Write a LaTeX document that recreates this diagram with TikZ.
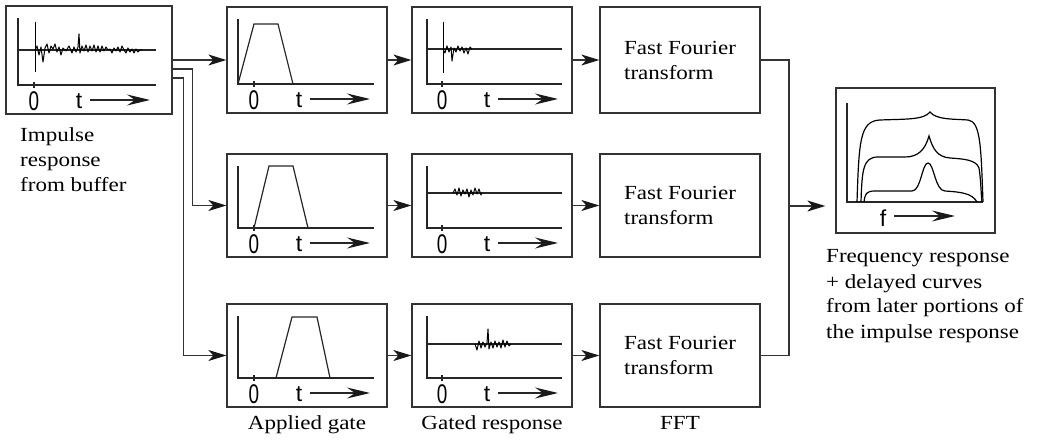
\documentclass[tikz,border=0pt]{standalone}
\usepackage{fontspec}
\setmainfont{Liberation Serif}[FakeStretch=1.15]
\newfontfamily\axfont{Liberation Sans}
\usetikzlibrary{arrows.meta}
\tikzset{
  frame/.style={draw=black!80, line width=1.3pt, rectangle, inner sep=0pt},
  ln/.style={draw=black!80, line width=1.3pt},
  arr/.style={ln, -{Stealth[length=18pt,width=11pt,inset=5pt,color=black!90]}},
  axline/.style={draw=black!85, line width=1.2pt},
  axarr/.style={draw=black!85, line width=1.2pt, -{Stealth[length=23pt,width=11pt,inset=8pt,color=black!90]}},
  sig/.style={draw=black, line width=1pt, line join=round},
  curve/.style={draw=black, line width=1.2pt},
  lbl/.style={font=\fontsize{20}{25}\selectfont, inner sep=0pt},
  zerolbl/.style={font=\axfont\fontsize{27}{27}\selectfont, inner sep=0pt},
  axlbl/.style={font=\axfont\fontsize{23}{23}\selectfont, inner sep=0pt},
}
\newcommand{\lns}[1]{\begin{tabular}[t]{@{}l@{}}#1\end{tabular}}
% #1 left, #2 top, #3 bottom, #4 y-axis offset, #5 x-axis end offset, #6 tick offset, #7 t offset
\newcommand{\tframe}[7]{%
  \draw[axline] (#1+#4,#2+12) -- (#1+#4,#3-29) -- (#1+#5,#3-29);
  \draw[axline] (#1+#6,#3-32) -- (#1+#6,#3-26);
  \node[zerolbl] (zero#1x#2) at (#1+#6,#3-12.5) {\scalebox{0.7}[1]{0}};
  \node[axlbl] (tl#1x#2) at (#1+#7,#3-12.5) {t};
  \draw[axarr] (#1+#7+11,#3-14) -- (#1+#7+71,#3-14);
}
\begin{document}
\begin{tikzpicture}[x=1pt,y=-1pt]
\useasboundingbox (0,0) rectangle (1040,443);
% boxes
\node[frame, minimum width=166pt, minimum height=108pt] (imp) at (89,60) {};
\node[frame, minimum width=160pt, minimum height=106pt] (g1) at (307,60) {};
\node[frame, minimum width=160pt, minimum height=103pt] (g2) at (307,205.5) {};
\node[frame, minimum width=160pt, minimum height=103pt] (g3) at (307,355.5) {};
\node[frame, minimum width=160pt, minimum height=106pt] (r1) at (492,60) {};
\node[frame, minimum width=160pt, minimum height=103pt] (r2) at (492,205.5) {};
\node[frame, minimum width=160pt, minimum height=103pt] (r3) at (492,355.5) {};
\node[frame, lbl, align=left, minimum width=160pt, minimum height=106pt] (f1) at (680,60) {Fast Fourier\\transform};
\node[frame, lbl, align=left, minimum width=160pt, minimum height=103pt] (f2) at (680,205.5) {Fast Fourier\\transform};
\node[frame, lbl, align=left, minimum width=160pt, minimum height=103pt] (f3) at (680,355.5) {Fast Fourier\\transform};
\node[frame, minimum width=159pt, minimum height=145pt] (out) at (915.5,160.5) {};

% impulse box
\tframe{6}{6}{114}{12}{150}{28}{73}
\draw[axline] (18,50) -- (156,50);
\draw[sig] (35,22) -- (35,72);
\draw[sig] plot coordinates {(35,50) (37,46) (39,55) (41,47) (43,62) (45,48) (47,44) (49,53) (51,46) (53,49) (55,44) (57,52) (59,47) (61,55) (63,48) (66,51) (69,46) (72,53) (74,47) (76,52) (78,47) (79,34) (80,53) (82,46) (84,51) (86,45) (88,52) (90,46) (92,51) (94,45) (96,52) (98,46) (100,52) (102,46) (104,51) (106,47) (108,50) (110,49) (112,53) (114,48) (116,51) (118,47) (120,52) (122,46) (124,50) (126,53) (128,48) (130,52) (132,49) (134,53) (136,49) (138,52) (140,50) (142,50)};

% gate boxes
\tframe{227}{7}{113}{11}{147}{27}{72}
\draw[axline] (238,84) -- (254,24) -- (278,24) -- (293,84);
\tframe{227}{154}{257}{11}{147}{27}{72}
\draw[axline] (254,228) -- (269,166) -- (293,166) -- (308,228);
\tframe{227}{304}{407}{11}{147}{27}{72}
\draw[axline] (276,378) -- (292,317) -- (317,317) -- (330,378);

% gated response boxes
\tframe{412}{7}{113}{15}{150}{30}{75}
\draw[axline] (427,49) -- (562,49);
\draw[sig] (443,22) -- (443,73);
\draw[sig] plot coordinates {(443,49) (445,53) (447,46) (449,52) (451,47) (452,61) (454,48) (456,52) (458,46) (460,51) (462,47) (464,53) (466,48) (468,54) (470,47) (472,49)};
\tframe{412}{154}{257}{15}{150}{30}{75}
\draw[axline] (427,193) -- (562,193);
\draw[sig] plot coordinates {(453,193) (455,189) (457,195) (459,188) (461,196) (463,190) (465,194) (467,189) (469,197) (471,190) (473,195) (475,188) (477,194) (479,189) (481,195) (482,193)};
\tframe{412}{304}{407}{15}{150}{30}{75}
\draw[axline] (427,344) -- (562,344);
\draw[sig] plot coordinates {(475,344) (477,350) (479,341) (481,348) (483,342) (485,347) (487,343) (488,329) (489,349) (491,342) (493,348) (495,341) (497,347) (499,342) (501,348) (503,340) (505,347) (507,341) (509,346) (511,344)};

% output box
\draw[axline] (847,103) -- (847,202) -- (983,202);
\node[axlbl] (fl) at (883,218) {f};
\draw[axarr] (894,216) -- (955,216);
\draw[curve] (857,202) .. controls (859,140) and (860,121) .. (880,120) .. controls (905,119) and (924,120) .. (930,112) .. controls (936,120) and (955,119) .. (968,120) .. controls (981,121) and (981,150) .. (983,202);
\draw[curve] (861,202) .. controls (862,170) and (863,157) .. (878,157) -- (905,157) .. controls (918,157) and (925,150) .. (929,136) .. controls (933,150) and (938,157) .. (950,158) .. controls (965,159) and (976,160) .. (979,168) .. controls (981,180) and (981,195) .. (982,202);
\draw[curve] (864,202) .. controls (865,194) and (866,191) .. (875,191) -- (912,191) .. controls (921,191) and (922,163) .. (928,163) .. controls (934,163) and (935,191) .. (945,191) .. controls (960,192) and (972,193) .. (977,202);

% connectors
\draw[arr] (imp.east) -- (g1.west);
\draw[arr] ([yshift=-9pt]imp.east) -- ++(20,0) |- (g2.west);
\draw[arr] ([yshift=-18pt]imp.east) -- ++(11,0) |- (g3.west);
\draw[arr] (g1.east) -- (r1.west);
\draw[arr] (g2.east) -- (r2.west);
\draw[arr] (g3.east) -- (r3.west);
\draw[arr] (r1.east) -- (f1.west);
\draw[arr] (r2.east) -- (f2.west);
\draw[arr] (r3.east) -- (f3.west);
\coordinate (bus) at (789,206);
\draw[ln] (f1.east) -| (bus) |- (f3.east);
\draw[arr, shorten >=10pt] (bus) -- (out.west |- bus);

% labels
\node[lbl, anchor=base west] (implbl) at (20,142) {\lns{Impulse\\response\\from buffer}};
\node[lbl, anchor=base] (gatelbl) at (307,429) {Applied gate};
\node[lbl, anchor=base] (resplbl) at (492,429) {Gated response};
\node[lbl, anchor=base] (fftlbl) at (680,429) {FFT};
\node[lbl, anchor=base west] (outlbl) at (826,263) {\lns{Frequency response\\+ delayed curves\\from later portions of\\the impulse response}};
\end{tikzpicture}
\end{document}
